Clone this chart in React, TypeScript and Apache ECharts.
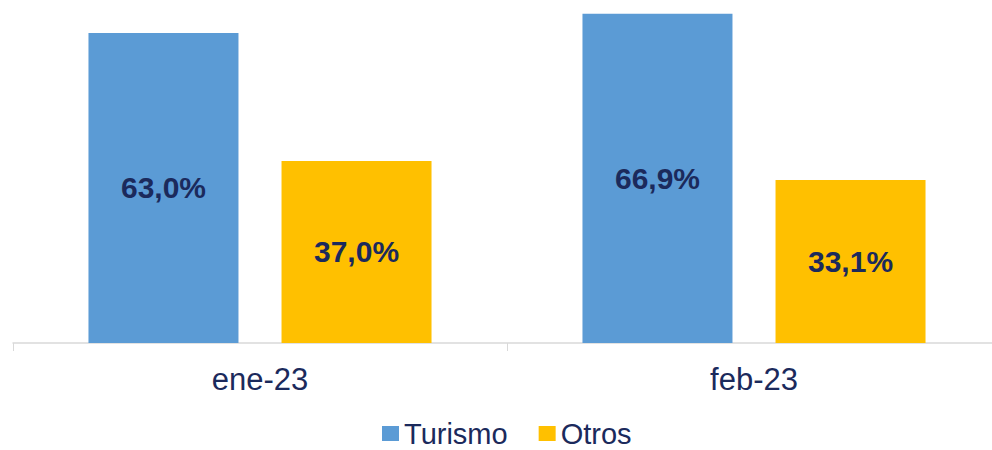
import React, { useEffect, useRef } from "react";
import * as echarts from "echarts";

const categories = ["ene-23", "feb-23"];
const turismo = [63.0, 66.9];
const otros = [37.0, 33.1];
const seriesNames = ["Turismo", "Otros"];

export default function App() {
  const ref = useRef<HTMLDivElement>(null);
  useEffect(() => {
    if (!ref.current) return;
    const chart = echarts.init(ref.current, null, { renderer: "svg" });
    const fmt = (p: any) => p.value.toFixed(1).replace(".", ",") + "%";
    const label = {
      show: true,
      position: "inside",
      formatter: fmt,
      color: "#1B2A5C",
      fontWeight: "bold",
      fontSize: 30,
      fontFamily: "Liberation Sans",
    };
    chart.setOption({
      animation: false,
      grid: { left: 13, top: 0, width: 988, height: 343, containLabel: false },
      legend: {
        left: 377,
        top: 414,
        itemWidth: 17,
        itemHeight: 15,
        itemGap: 31,
        icon: "rect",
        textStyle: { fontSize: 29, color: "#1B2A5C", fontFamily: "Liberation Sans" },
        data: seriesNames,
      },
      xAxis: {
        type: "category",
        data: categories,
        axisLine: { lineStyle: { color: "#D9D9D9", width: 1.5 } },
        axisTick: { show: true, length: 8, lineStyle: { color: "#D9D9D9" } },
        axisLabel: { fontSize: 31, color: "#1B2A5C", margin: 21, fontFamily: "Liberation Sans" },
      },
      yAxis: { type: "value", min: 0, max: 69.7, show: false, splitLine: { show: false } },
      series: [
        {
          name: seriesNames[0],
          type: "bar",
          data: turismo,
          barWidth: 150,
          barGap: "28.7%",
          itemStyle: { color: "#5B9BD5" },
          label,
        },
        {
          name: seriesNames[1],
          type: "bar",
          data: otros,
          barWidth: 150,
          itemStyle: { color: "#FFC000" },
          label,
        },
      ],
    });
    return () => chart.dispose();
  }, []);
  return (
    <div
      style={{
        position: "absolute",
        left: 0,
        top: 0,
        width: 992,
        height: 450,
        overflow: "hidden",
        background: "#fff",
      }}
    >
      <div ref={ref} style={{ width: 1010, height: 450 }} />
    </div>
  );
}
